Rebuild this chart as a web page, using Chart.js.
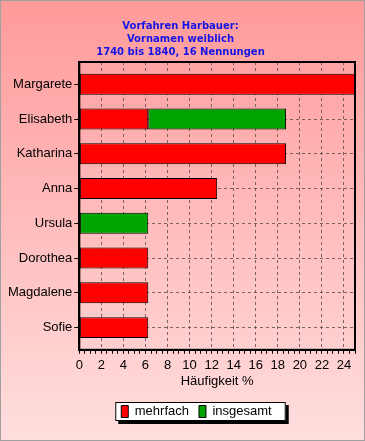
<!DOCTYPE html>
<html>
<head>
<meta charset="utf-8">
<script src="https://cdn.jsdelivr.net/npm/chart.js@4"></script>
<style>
  html, body { margin: 0; padding: 0; background: #fff; }
  #wrap { width: 365px; height: 441px; }
</style>
</head>
<body>
<div id="wrap"><canvas id="chart" width="365" height="441"></canvas></div>
<script>
// names and shares (% of 16 mentions)
const names = ['Margarete', 'Elisabeth', 'Katharina', 'Anna', 'Ursula', 'Dorothea', 'Magdalene', 'Sofie'];
const mehrfach = [25, 6.25, 18.75, 12.5, 0, 6.25, 6.25, 6.25];
const insgesamt = [0, 12.5, 0, 0, 6.25, 0, 0, 0];
const titleLines = ['Vorfahren Harbauer:', 'Vornamen weiblich', '1740 bis 1840, 16 Nennungen'];

const labelFont = { family: 'Liberation Sans, Arial, sans-serif', size: 13 };
const gridColor = 'rgba(100,80,80,0.85)';

// background, frame and legend box
const decor = {
    id: 'decor',
    afterUpdate(chart) {
        // move the legend a bit to the right, like the original
        const lg = chart.legend;
        const dx = 16;
        lg.left += dx;
        lg.right += dx;
        (lg.legendHitBoxes || []).forEach(b => { b.left += dx; });
    },
    beforeDraw(chart) {
        const ctx = chart.ctx;
        const w = chart.width, h = chart.height;
        const g = ctx.createLinearGradient(0, 0, 0, h);
        g.addColorStop(0, '#ff9a9a');
        g.addColorStop(1, '#ffdede');
        ctx.save();
        ctx.fillStyle = g;
        ctx.fillRect(0, 0, w, h);
        ctx.strokeStyle = '#a0a0a0';
        ctx.lineWidth = 1;
        ctx.strokeRect(0.5, 0.5, w - 1, h - 1);

        const lg = chart.legend;
        if (lg && lg.legendHitBoxes && lg.legendHitBoxes.length) {
            const hb = lg.legendHitBoxes;
            const x1 = hb[0].left - 6;
            const x2 = hb[hb.length - 1].left + hb[hb.length - 1].width + 14;
            const y1 = hb[0].top - 3;
            const y2 = hb[0].top + hb[0].height + 3;
            ctx.fillStyle = '#000';
            ctx.fillRect(x1 + 3, y1 + 3, x2 - x1, y2 - y1);
            ctx.fillStyle = '#fff';
            ctx.fillRect(x1, y1, x2 - x1, y2 - y1);
            ctx.strokeStyle = '#000';
            ctx.strokeRect(x1 + 0.5, y1 + 0.5, x2 - x1 - 1, y2 - y1 - 1);
        }
        ctx.restore();
    },
    afterDatasetsDraw(chart) {
        const a = chart.chartArea;
        const ctx = chart.ctx;
        ctx.save();
        ctx.strokeStyle = '#000';
        ctx.lineWidth = 2;
        ctx.strokeRect(a.left, a.top, a.right - a.left, a.bottom - a.top);
        ctx.restore();
    }
};

new Chart(document.getElementById('chart'), {
    type: 'bar',
    data: {
        datasets: [
            {
                label: 'mehrfach',
                data: mehrfach.map((v, i) => ({ x: v, y: i })),
                backgroundColor: '#ff0000',
                borderColor: '#000',
                borderWidth: 1,
                borderSkipped: false
            },
            {
                label: 'insgesamt',
                data: insgesamt.map((v, i) => ({ x: v, y: i })),
                backgroundColor: '#00a400',
                borderColor: '#000',
                borderWidth: 1,
                borderSkipped: false
            }
        ]
    },
    options: {
        indexAxis: 'y',
        responsive: false,
        animation: false,
        layout: { padding: { left: 6, right: 10, top: 0, bottom: 13 } },
        datasets: { bar: { categoryPercentage: 1, barPercentage: 0.6 } },
        scales: {
            x: {
                stacked: true,
                min: 0,
                max: 25,
                title: { display: true, text: 'Häufigkeit %', color: '#000', font: labelFont, padding: { top: -4, bottom: 6 } },
                ticks: {
                    stepSize: 0.5,
                    autoSkip: false,
                    maxRotation: 0,
                    color: '#000',
                    font: labelFont,
                    padding: 4,
                    callback: v => (v % 2 === 0 ? String(v) : '')
                },
                grid: {
                    color: c => (c.tick && c.tick.value % 2 === 0 && c.tick.value > 0 && c.tick.value < 25 ? gridColor : 'rgba(0,0,0,0)'),
                    tickColor: '#000',
                    tickLength: 4,
                    tickBorderDash: []
                },
                border: { display: true, color: '#000', width: 2, dash: [3, 3] }
            },
            y: {
                type: 'linear',
                stacked: true,
                reverse: true,
                offset: false,
                min: -0.64,
                max: names.length - 1 + 0.64,
                ticks: {
                    stepSize: 1,
                    includeBounds: false,
                    autoSkip: false,
                    color: '#000',
                    font: labelFont,
                    padding: 2,
                    callback: v => (Number.isInteger(v) ? names[v] : '')
                },
                grid: {
                    offset: false,
                    color: gridColor,
                    tickColor: '#000',
                    tickLength: 5,
                    tickBorderDash: []
                },
                border: { display: true, color: '#000', width: 2, dash: [3, 3] }
            }
        },
        plugins: {
            title: {
                display: true,
                text: titleLines,
                color: '#1414e6',
                font: { family: 'DejaVu Sans, sans-serif', size: 10, weight: 'bold', lineHeight: 1.3 },
                padding: { top: 20, bottom: 3 }
            },
            legend: {
                position: 'bottom',
                labels: {
                    color: '#000',
                    font: labelFont,
                    boxWidth: 7,
                    boxHeight: 12,
                    padding: 10,
                    useBorderRadius: false
                }
            },
            tooltip: { enabled: false }
        }
    },
    plugins: [decor]
});
</script>
</body>
</html>
